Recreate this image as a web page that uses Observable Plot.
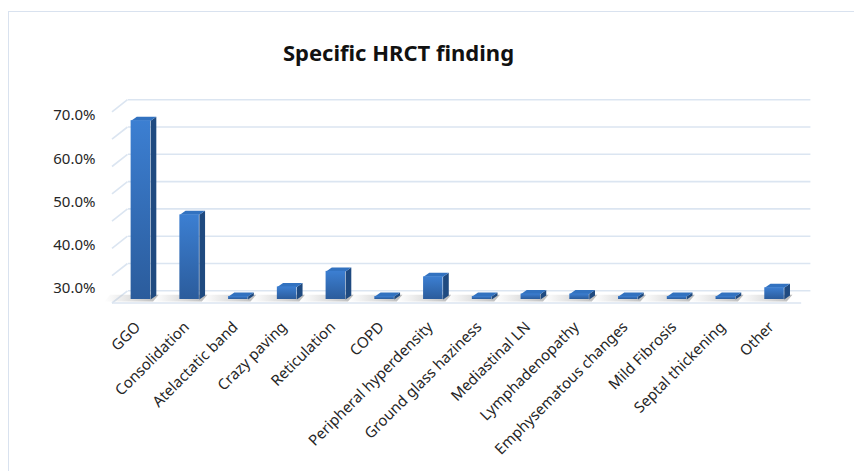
<!DOCTYPE html>
<html>
<head>
<meta charset="utf-8">
<script src="https://cdn.jsdelivr.net/npm/d3@7"></script>
<script src="https://cdn.jsdelivr.net/npm/@observablehq/plot@0.6"></script>
<style>
  html, body { margin: 0; padding: 0; background: #fff; }
  #wrap { position: relative; width: 854px; height: 471px; overflow: hidden; }
  #frame { position: absolute; left: 8px; top: 11px; width: 900px; height: 500px;
           border-top: 1.5px solid #d9e2ef; border-left: 1.5px solid #d9e2ef; }
  #title { position: absolute; left: 0; width: 797px; top: 37px; text-align: center;
           font-family: "Noto Sans", sans-serif; font-weight: bold; font-size: 22px; color: #111; }
  #chart { position: absolute; left: 0; top: 0; }
</style>
</head>
<body>
<div id="wrap">
  <div id="frame"></div>
  <div id="chart"></div>
  <div id="title">Specific HRCT finding</div>
</div>
<script>
const categories = ["GGO","Consolidation","Atelactatic band","Crazy paving","Reticulation","COPD","Peripheral hyperdensity","Ground glass haziness","Mediastinal LN","Lymphadenopathy","Emphysematous changes","Mild Fibrosis","Septal thickening","Other"];
const values = [65.5, 31.0, 1.1, 4.6, 10.3, 1.1, 8.3, 1.1, 2.0, 2.0, 1.1, 1.1, 1.1, 4.3];
const gridValues = [0, 10, 20, 30, 40, 50, 60, 70];
const yTickLabels = [30, 40, 50, 60, 70];

const W = 854, H = 471;
const mL = 116, mR = 55.6, mT = 94.25, mB = 172;
const xDomain = [-0.5, categories.length - 0.5];
const yDomain = [0, 75];
const kx = (W - mL - mR) / (xDomain[1] - xDomain[0]);  // px per category
const ky = (H - mT - mB) / (yDomain[1] - yDomain[0]);  // px per percent

// depth offsets (pixels -> data units)
const hw = 0.2;
const bdx = 5.7 / kx, bdy = 4 / ky;
const wbx = 11 / kx, wby = 8.7 / ky;
const wfx = -4.5 / kx, wfy = -3.5 / ky;

const data = categories.map((c, i) => ({c, i, v: values[i]}));

const sideFaces = data.flatMap(d => [
  {id: d.i, x: d.i + hw, y: 0}, {id: d.i, x: d.i + hw + bdx, y: bdy},
  {id: d.i, x: d.i + hw + bdx, y: d.v + bdy}, {id: d.i, x: d.i + hw, y: d.v}]);
const topFaces = data.flatMap(d => [
  {id: d.i, x: d.i - hw, y: d.v}, {id: d.i, x: d.i + hw, y: d.v},
  {id: d.i, x: d.i + hw + bdx, y: d.v + bdy}, {id: d.i, x: d.i - hw + bdx, y: d.v + bdy}]);
const shadows = data.flatMap(d => [
  {id: d.i, x: d.i - hw - 0.55, y: wfy * 0.6}, {id: d.i, x: d.i + hw + 0.05, y: wfy * 0.6},
  {id: d.i, x: d.i + hw + bdx + 0.05, y: bdy + 0.3}, {id: d.i, x: d.i - hw - 0.55 + bdx, y: bdy + 0.3}]);

const leftWall = gridValues.map(g => ({g,
  x1: xDomain[0] + wbx, y1: g + wby, x2: xDomain[0] + wfx, y2: g + wfy}));

const labelPos = L => 4.0 + (L - 30) * 1.585;

const chart = Plot.plot({
  width: W, height: H,
  marginLeft: mL, marginRight: mR, marginTop: mT, marginBottom: mB,
  x: {type: "linear", domain: xDomain, axis: null},
  y: {type: "linear", domain: yDomain, axis: null},
  style: {fontFamily: "Noto Sans, sans-serif", background: "transparent", overflow: "visible"},
  marks: [
    Plot.ruleY(gridValues, {y: d => d + wby, dx: 12, stroke: "#dbe5f1", strokeWidth: 1.6}),
    Plot.link(leftWall, {x1: "x1", y1: "y1", x2: "x2", y2: "y2", stroke: "#dbe5f1", strokeWidth: 1.6}),
    Plot.link([0], {x1: xDomain[0] + wfx, x2: xDomain[1] - wfx * 0.5, y1: wfy, y2: wfy, stroke: "#dbe5f1", strokeWidth: 1.6}),
    Plot.line(shadows, {x: "x", y: "y", z: "id", fill: "url(#shadowGrad)", stroke: "none"}),
    Plot.line(sideFaces, {x: "x", y: "y", z: "id", fill: "#1f4a80", stroke: "none"}),
    Plot.line(topFaces, {x: "x", y: "y", z: "id", fill: "#3272c0", stroke: "none"}),
    Plot.rect(data, {x1: d => d.i - hw, x2: d => d.i + hw, y1: 0, y2: "v", fill: "url(#frontGrad)"}),
    Plot.text(yTickLabels, {y: d => labelPos(d), text: d => d.toFixed(1) + "%", frameAnchor: "left",
      textAnchor: "end", dx: -21, fontSize: 15, fill: "#262626"}),
    Plot.text(data, {x: "i", y: 0, text: "c", rotate: -45, textAnchor: "end", dx: -3, dy: 25,
      fontSize: 15, fill: "#262626"})
  ]
});

chart.insertAdjacentHTML("afterbegin", `<defs>
  <linearGradient id="frontGrad" x1="0" y1="0" x2="0" y2="1">
    <stop offset="0" stop-color="#3c7fd2"/>
    <stop offset="1" stop-color="#2b5c9c"/>
  </linearGradient>
  <linearGradient id="shadowGrad" x1="0" y1="0" x2="1" y2="0">
    <stop offset="0" stop-color="#bbb" stop-opacity="0"/>
    <stop offset="0.7" stop-color="#aaa" stop-opacity="0.55"/>
    <stop offset="1" stop-color="#999" stop-opacity="0.7"/>
  </linearGradient>
</defs>`);
document.getElementById("chart").appendChild(chart);
</script>
</body>
</html>
